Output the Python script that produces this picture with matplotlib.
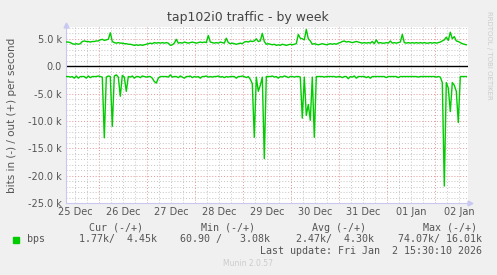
import matplotlib
matplotlib.use("Agg")
import matplotlib.pyplot as plt
import numpy as np

# hourly samples, first sample 25 Dec 07:30 (hours since 25 Dec 00:00)
start_hour = 7.5

# out (+), in k bits/s
out_k = [
    4.4, 4.4, 4.3, 4.1, 4.0, 4.1, 4.0, 4.1, 4.5, 4.6, 4.5, 4.5,
    4.4, 4.5, 4.5, 4.6, 4.6, 4.8, 4.9, 4.7, 4.8, 4.9, 6.1, 4.5,
    4.3, 4.2, 4.3, 4.2, 4.2, 4.1, 4.1, 4.0, 4.0, 3.9, 3.8, 3.9,
    3.8, 3.9, 3.8, 3.9, 4.0, 4.1, 4.2, 4.1, 4.3, 4.2, 4.3, 4.2,
    4.3, 4.2, 4.3, 4.2, 3.8, 3.9, 4.2, 4.9, 4.2, 4.3, 4.2, 4.4,
    4.3, 4.2, 4.3, 4.4, 4.3, 4.2, 4.3, 4.4, 4.3, 4.4, 4.3, 5.6,
    4.4, 4.3, 4.2, 4.3, 4.2, 4.4, 4.3, 4.2, 5.1, 4.3, 4.1, 4.2,
    4.1, 4.0, 4.1, 4.2, 4.1, 4.4, 4.5, 4.4, 4.6, 4.5, 4.6, 5.0,
    4.5, 4.6, 6.0, 4.5, 4.0, 4.1, 4.0, 3.9, 4.0, 3.8, 3.9, 3.8,
    4.0, 3.9, 3.8, 3.9, 4.0, 3.9, 4.0, 4.1, 5.8, 5.1, 5.0, 4.8,
    6.7, 5.0, 4.6, 4.0, 4.1, 4.0, 3.9, 4.0, 4.1, 4.0, 3.9, 4.0,
    4.1, 4.0, 4.1, 4.0, 4.2, 4.3, 4.5, 4.6, 4.4, 4.5, 4.4, 4.3,
    4.4, 4.5, 4.4, 4.3, 4.2, 4.3, 4.2, 4.3, 4.2, 4.5, 4.1, 4.8,
    4.2, 4.3, 4.2, 4.2, 4.3, 4.2, 4.6, 4.2, 4.3, 4.2, 4.3, 4.4,
    5.8, 4.3, 4.2, 4.3, 4.2, 4.3, 4.2, 4.3, 4.2, 4.3, 4.2, 4.3,
    4.2, 4.2, 4.3, 4.2, 4.3, 4.2, 4.3, 4.4, 4.6, 4.8, 5.3, 4.7,
    6.2, 5.0, 5.4, 4.6, 4.5, 4.3, 4.1, 4.0, 3.9,
]

# in (-), in k bits/s
in_k = [
    -1.9, -1.9, -2.0, -1.9, -2.2, -1.8, -2.2, -1.9, -1.9, -1.9, -2.2, -1.8,
    -2.1, -1.9, -1.9, -1.9, -1.8, -1.9, -2.0, -13.1, -2.0, -1.8, -1.9, -11.0,
    -1.8, -1.6, -2.0, -5.5, -1.7, -2.0, -4.6, -1.9, -2.0, -1.8, -2.2, -1.9,
    -1.9, -2.1, -1.8, -1.9, -2.0, -1.9, -1.9, -2.2, -2.8, -3.1, -2.2, -1.9,
    -1.9, -1.9, -1.9, -2.0, -1.6, -2.0, -1.9, -1.9, -2.1, -1.8, -2.0, -2.2,
    -1.9, -1.9, -1.8, -2.1, -1.9, -2.0, -1.9, -2.2, -1.9, -1.9, -1.8, -2.0,
    -1.9, -2.0, -1.9, -1.9, -1.8, -2.0, -1.9, -2.1, -1.9, -2.0, -1.9, -1.9,
    -1.9, -2.2, -1.9, -1.9, -1.8, -1.9, -2.1, -1.9, -2.4, -3.2, -13.0, -2.0,
    -4.6, -3.5, -2.0, -16.9, -1.9, -1.9, -1.9, -1.8, -2.0, -1.9, -2.2, -1.9,
    -2.0, -1.8, -1.9, -2.1, -1.9, -1.9, -2.0, -1.9, -1.9, -2.0, -9.5, -2.0,
    -9.0, -7.0, -9.9, -2.0, -13.0, -1.9, -1.9, -1.9, -1.9, -2.0, -1.9, -1.9,
    -1.9, -1.9, -1.9, -2.0, -1.9, -1.9, -2.1, -1.9, -1.9, -2.3, -1.9, -2.0,
    -1.8, -2.2, -1.9, -1.9, -1.9, -1.9, -2.1, -1.9, -2.2, -1.9, -1.9, -1.9,
    -1.9, -1.9, -1.9, -1.9, -2.1, -1.9, -1.9, -1.9, -1.9, -1.9, -2.1, -1.9,
    -1.9, -1.9, -1.9, -1.9, -1.9, -1.9, -1.9, -1.9, -2.0, -1.9, -1.9, -1.9,
    -1.9, -1.9, -1.9, -1.9, -1.9, -2.0, -1.9, -2.0, -3.0, -21.9, -3.0, -4.0,
    -8.3, -3.0, -3.5, -4.6, -10.3, -1.9, -1.9, -1.9, -1.9,
]

day_labels = ["25 Dec", "26 Dec", "27 Dec", "28 Dec", "29 Dec",
              "30 Dec", "31 Dec", "01 Jan", "02 Jan"]
y_ticks = [5000, 0, -5000, -10000, -15000, -20000, -25000]
y_ticklabels = ["5.0 k", "0.0", "-5.0 k", "-10.0 k", "-15.0 k", "-20.0 k", "-25.0 k"]

stat_head = ["Cur (-/+)", "Min (-/+)", "Avg (-/+)", "Max (-/+)"]
stat_vals = ["1.77k/  4.45k", "60.90 /   3.08k", "2.47k/  4.30k", "74.07k/ 16.01k"]

green = "#00CC00"
txt = "#555555"
axcol = "#C8C8F0"

W, H = 497, 275
fig = plt.figure(figsize=(W / 100, H / 100), dpi=100, facecolor="#F0F0F0")
ax = fig.add_axes([66 / W, 1 - 203 / H, 402 / W, 176 / H])
ax.set_facecolor("white")

hours = start_hour + np.arange(len(out_k))
ax.set_xlim(7.35, 208.35)
ax.set_ylim(-25000, 7150)

# grid: minor grey every 6 h / 1k, major red every day / 5k
for h in np.arange(12, 208, 6):
    if h % 24 != 0:
        ax.axvline(h, color="#C4C4C4", lw=0.7, ls=(0, (1, 2)), zorder=1)
for h in np.arange(24, 208, 24):
    ax.axvline(h, color="#E39595", lw=0.7, ls=(0, (1, 2)), zorder=1)
for v in np.arange(-24000, 7001, 1000):
    if v % 5000 != 0:
        ax.axhline(v, color="#C4C4C4", lw=0.7, ls=(0, (1, 2)), zorder=1)
for v in y_ticks:
    ax.axhline(v, color="#E39595", lw=0.7, ls=(0, (1, 2)), zorder=1)

ax.axhline(0, color="black", lw=1.0, zorder=2)
ax.plot(hours, np.array(out_k) * 1000, color=green, lw=1.0, zorder=3)
ax.plot(hours, np.array(in_k) * 1000, color=green, lw=1.0, zorder=3)

for s in ["top", "right"]:
    ax.spines[s].set_visible(False)
for s in ["left", "bottom"]:
    ax.spines[s].set_color(axcol)
    ax.spines[s].set_linewidth(0.8)
ax.plot(1.005, 0, ">", transform=ax.transAxes, color=axcol, ms=3.5, clip_on=False)
ax.plot(0, 1.01, "^", transform=ax.transAxes, color=axcol, ms=3.5, clip_on=False)

ax.set_yticks(y_ticks)
ax.set_yticklabels(y_ticklabels)
ax.set_xticks([12 + 24 * i for i in range(len(day_labels))])
ax.set_xticklabels(day_labels)
ax.tick_params(length=0, labelsize=7, colors=txt, pad=3)

fig.text(248 / W, 1 - 18 / H, "tap102i0 traffic - by week", ha="center",
         va="center", fontsize=9, color="#444444")
fig.text(12 / W, 1 - 115 / H, "bits in (-) / out (+) per second", rotation=90,
         ha="center", va="center", fontsize=7.5, color=txt)
fig.text(489 / W, 1 - 55 / H, "RRDTOOL / TOBI OETIKER", rotation=270,
         ha="center", va="center", fontsize=5, color="#CCCCCC")

mono = dict(family="DejaVu Sans Mono", fontsize=7.2, color=txt, va="center")
for x, s in zip([89, 201, 312, 423], stat_head):
    fig.text(x / W, 1 - 228 / H, s, ha="left", **mono)
fig.patches.append(plt.Rectangle((13 / W, 1 - 243 / H), 6 / W, 6 / H,
                                 transform=fig.transFigure, color=green))
fig.text(27 / W, 1 - 239 / H, "bps", ha="left", **mono)
for x, s in zip([79, 180, 296, 398], stat_vals):
    fig.text(x / W, 1 - 239 / H, s, ha="left", **mono)
fig.text(482 / W, 1 - 251 / H, "Last update: Fri Jan  2 15:30:10 2026",
         ha="right", **mono)
fig.text(248 / W, 1 - 263 / H, "Munin 2.0.57", ha="center", va="center",
         fontsize=5.5, color="#CCCCCC")

fig.savefig("out.png", dpi=100, facecolor=fig.get_facecolor())
